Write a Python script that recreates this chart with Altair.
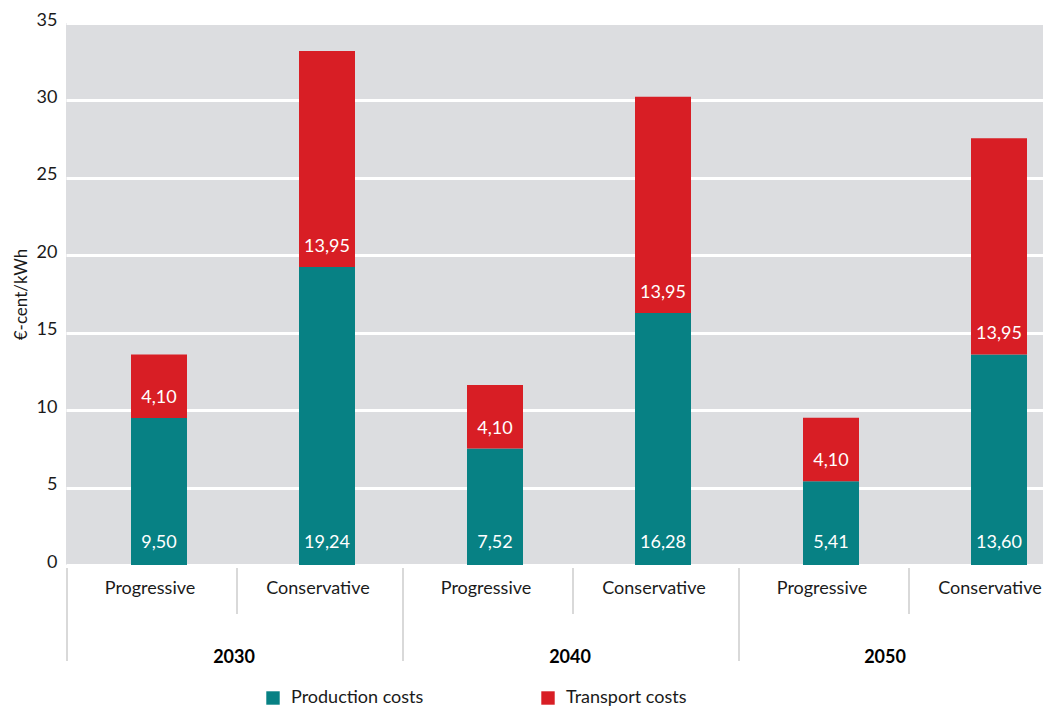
import altair as alt
import pandas as pd

years = ["2030", "2030", "2040", "2040", "2050", "2050"]
scenarios = ["Progressive", "Conservative", "Progressive", "Conservative", "Progressive", "Conservative"]
production = [9.50, 19.24, 7.52, 16.28, 5.41, 13.60]
transport = [4.10, 13.95, 4.10, 13.95, 4.10, 13.95]
components = ["Production costs", "Transport costs"]
colors = ["#078184", "#d81e25"]
y_ticks = [0, 5, 10, 15, 20, 25, 30, 35]

keys = [f"{y}|{s}" for y, s in zip(years, scenarios)]

rows = []
for k, y, s, p, t in zip(keys, years, scenarios, production, transport):
    rows.append(dict(key=k, year=y, scenario=s, component=components[0], value=p,
                     base=0.0, label=f"{p:.2f}".replace(".", ","), order=0))
    rows.append(dict(key=k, year=y, scenario=s, component=components[1], value=t,
                     base=p, label=f"{t:.2f}".replace(".", ","), order=1))
df = pd.DataFrame(rows)

cats = pd.DataFrame({"key": keys, "year": years, "scenario": scenarios})
year_starts = cats[cats["scenario"] == "Progressive"]
sub_starts = cats[cats["scenario"] == "Conservative"]

W, H = 977, 542
FONT = "Lato"
TXT = "#1a1a1a"


def xenc(**kw):
    return alt.X("key:N", sort=keys, axis=None,
                 scale=alt.Scale(paddingInner=0, paddingOuter=0, range=[0, 1008]), **kw)


bars = alt.Chart(df).mark_bar(size=56, xOffset=9).encode(
    x=xenc(),
    y=alt.Y("value:Q", stack="zero",
            scale=alt.Scale(domain=[0, 35], nice=False),
            axis=alt.Axis(title="€-cent/kWh", values=y_ticks, grid=True,
                          gridColor="white", gridWidth=3, domain=False, ticks=False,
                          labelFontSize=18, labelColor=TXT, labelPadding=9,
                          labelOffset=-3, titleFontSize=17, titleFontWeight="normal",
                          titleColor=TXT, titlePadding=6, labelFont=FONT,
                          titleFont=FONT)),
    color=alt.Color("component:N", sort=components,
                    scale=alt.Scale(domain=components, range=colors),
                    legend=alt.Legend(title=None, orient="none", legendX=198, legendY=666,
                                      direction="horizontal", columns=2, columnPadding=115,
                                      symbolType="square", symbolSize=180,
                                      symbolStrokeWidth=0, labelFontSize=18,
                                      labelFont=FONT, labelColor=TXT, labelOffset=9)),
    order=alt.Order("order:Q"),
)

labels = alt.Chart(df).encode(
    x=xenc(),
    y=alt.Y("base:Q"),
    text="label:N",
)
labels_prod = labels.transform_filter(alt.datum.order == 0).mark_text(
    color="white", fontSize=18, font=FONT, baseline="middle", dy=-22, dx=9)
labels_trans = labels.transform_filter(alt.datum.order == 1).mark_text(
    color="white", fontSize=18, font=FONT, baseline="middle", dy=-20, dx=9)

sub_text = alt.Chart(cats).mark_text(fontSize=18, font=FONT, color=TXT,
                                     baseline="middle").encode(
    x=xenc(), y=alt.value(H + 24), text="scenario:N")

year_base = alt.Chart(year_starts).encode(
    x=xenc(bandPosition=1), y=alt.value(H + 93), text="year:N")
year_text = year_base.transform_filter(alt.datum.year != "2050").mark_text(
    fontSize=18, font=FONT, fontWeight="bold", color="#000000", baseline="middle")
year_text_last = year_base.transform_filter(alt.datum.year == "2050").mark_text(
    fontSize=18, font=FONT, fontWeight="bold", color="#000000", baseline="middle", dx=-21)

sub_sep = alt.Chart(sub_starts).mark_rule(color="#d9d9d9", strokeWidth=2, xOffset=3).encode(
    x=xenc(bandPosition=0), y=alt.value(H + 3), y2=alt.value(H + 49))

year_sep = alt.Chart(year_starts).mark_rule(color="#d9d9d9", strokeWidth=2, xOffset=1).encode(
    x=xenc(bandPosition=0), y=alt.value(H + 3), y2=alt.value(H + 96))

chart = alt.layer(bars, labels_prod, labels_trans, sub_sep, year_sep, sub_text,
                  year_text, year_text_last).properties(
    width=W, height=H,
    autosize=alt.AutoSizeParams(type="none"),
    padding={"left": 58, "top": 15, "right": 0, "bottom": 143},
    background="white",
).configure(font=FONT).configure_view(fill="#dcdde0", strokeWidth=0)

chart.save("out.html", embed_options={"renderer": "svg", "actions": False})
